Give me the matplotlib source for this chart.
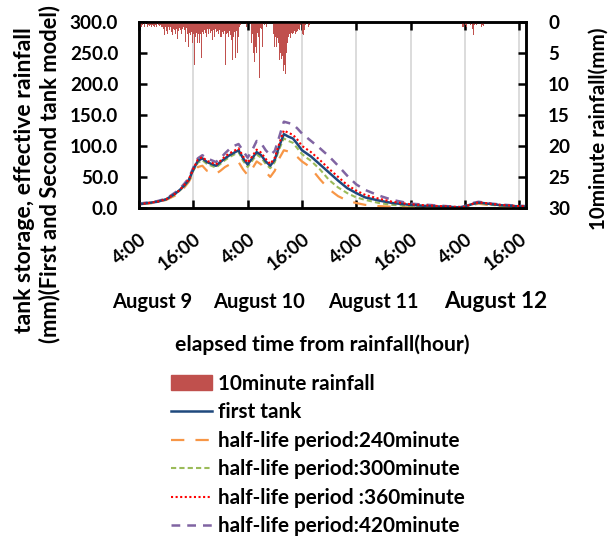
import matplotlib
matplotlib.use('Agg')
import matplotlib.pyplot as plt
from matplotlib.lines import Line2D
from matplotlib.patches import Patch
import numpy as np

plt.rcParams['font.family'] = ['Lato', 'DejaVu Sans']
plt.rcParams['font.weight'] = 'bold'

# ---------------- data ----------------
hours = [0, 2, 4, 6, 8, 9, 10, 11, 12, 13, 14, 15, 16, 17, 18, 19, 20, 21, 22, 23,
         24, 25, 26, 27, 28, 29, 30, 31, 32, 33, 34, 35, 36, 37, 38, 40, 42, 44, 46, 48,
         50, 53, 56, 60, 64, 68, 71, 72, 73, 74, 75, 76, 78, 80, 83, 85.7]

first_tank = [6, 8, 10, 14, 23, 29, 36, 45, 62, 76, 80, 74, 71, 68, 74, 80, 85, 89, 93, 80,
              70, 80, 90, 85, 75, 68, 78, 100, 119, 115, 112, 103, 93, 88, 83, 70, 57, 44, 32, 24,
              17, 12, 8, 5, 3, 2, 1, 2, 5, 7, 8.5, 8, 6, 4.5, 3, 2]
hl240 = [6, 7, 9, 13, 20, 26, 33, 42, 56, 66, 68, 60, 58, 55, 60, 66, 70, 72, 74, 62,
         53, 63, 75, 70, 58, 50, 60, 80, 93, 91, 88, 82, 75, 70, 64, 46, 30, 19, 12, 8,
         5, 3, 2, 1, 1, 0.5, 0.5, 1, 3.5, 5.5, 7, 6, 4, 2.5, 1.5, 1]
hl300 = [6, 8, 10, 14, 22, 28, 35, 44, 60, 73, 77, 71, 68, 65, 71, 77, 82, 86, 90, 76,
         66, 76, 86, 81, 71, 64, 74, 95, 112, 108, 105, 96, 87, 81, 76, 62, 45, 33, 24, 17,
         13, 8, 5, 3, 2, 1, 0.5, 1.5, 4.5, 6.5, 8, 7, 5, 3.5, 2.5, 1.5]
hl360 = [6, 8, 10, 14, 23, 29, 37, 46, 63, 78, 82, 76, 73, 70, 76, 83, 88, 92, 96, 83,
         73, 83, 94, 89, 79, 71, 81, 104, 125, 121, 118, 110, 100, 95, 90, 77, 63, 50, 37, 28,
         21, 15, 10, 6, 4, 2.5, 1.5, 2, 5, 7.5, 9, 8.5, 6.5, 5, 3.5, 2.5]
hl420 = [7, 9, 11, 15, 25, 31, 39, 48, 65, 80, 85, 80, 77, 74, 80, 88, 95, 100, 103, 92,
         81, 93, 108, 104, 93, 85, 92, 115, 139, 137, 135, 128, 120, 114, 108, 96, 83, 68, 52, 38,
         29, 20, 13, 7, 5, 3, 1.5, 3, 6, 8.5, 10, 9, 7, 5.5, 4, 3]

# 10-minute rainfall (mm), given as (start step, values) with 10-minute steps from 4:00 Aug 9
rain_seg1_start = 1
rain_seg1 = [0.8, 0.5, 0.9, 0.6, 0, 0.7, 0.8, 0.4, 0, 0.6, 0.9, 0.5, 0.7, 0, 0.6, 0.8, 0.5, 0,
             0.7, 0.9, 0.6, 0.5, 0.8, 0, 0.6, 0.9, 0.7, 0.5, 0.8, 0.6,
             0.9, 1.2, 2.2, 1.0, 0.8, 1.5, 2.0, 1.1, 0.9, 1.3, 0.8, 1.0, 1.6, 2.2, 1.2, 0.9, 1.4,
             2.0, 1.1, 0.8, 2.8, 1.5, 1.0, 3.0, 1.3, 2.0, 1.2, 0.9, 2.5, 1.4, 3.2, 1.0, 1.5, 2.0,
             4.0, 1.8, 1.2, 2.2, 1.6, 3.5, 1.3, 2.0]
rain_seg2_start = 73
rain_seg2 = [7.0, 2.5, 5.5, 1.8, 3.5, 2.0,
             1.5, 3.5, 2.0, 5.8, 2.2, 1.6,
             2.0, 1.4, 2.4, 1.8, 2.4, 1.2,
             1.6, 2.0, 1.2, 1.8, 1.0, 1.5,
             2.9, 1.4, 1.8, 2.5, 1.2, 1.6,
             4.0, 1.5, 2.0, 1.3, 1.8, 2.4,
             2.4, 1.6, 1.2, 2.0, 1.5, 7.0,
             2.0, 6.2, 1.8, 2.5, 1.5, 7.0,
             2.2, 3.0, 6.2, 1.8, 2.5, 1.6,
             5.9, 2.0, 1.5, 5.1, 2.4, 1.2,
             0.8, 0.5]
rain_seg3_start = 142
rain_seg3 = [0.9, 0, 0.5, 0, 0, 0.4, 0, 3.5, 2.0, 5.1, 3.5, 6.5, 4.0, 5.0, 3.0, 1.8, 2.5,
             9.0, 1.5, 1.0, 1.2, 4.0, 1.0, 0, 0.5, 0, 0, 0.8]
rain_seg4_start = 178
rain_seg4 = [2.0, 4.0, 2.5, 3.8, 4.0, 2.6, 3.5, 4.2,
             6.2, 5.0, 6.0, 4.8, 5.5, 8.0,
             7.0, 10.0, 8.5, 5.0, 3.5, 2.5,
             2.4, 2.0, 2.6, 2.2, 1.8, 2.0,
             1.8, 2.1, 1.5, 2.0, 1.6, 2.0,
             1.5, 1.2, 1.3, 0.8, 0.5, 0.3,
             2.0, 1.5, 2.1, 1.3, 0.6, 0.0,
             0.0, 0.0, 0.8, 0.0, 0.5]
rain_seg5_start = 428
rain_seg5 = [0.8, 0.6, 0.8, 0, 0.5, 0, 0.8, 0, 0, 0, 0, 0.6, 0, 0, 1.2, 2.2, 0.6, 0.8, 0, 0.6,
             0, 0, 0, 0, 0, 0, 0.8, 0.6, 0.7]

xtick_hours = [0, 12, 24, 36, 48, 60, 72, 84]
xtick_labels = ['4:00', '16:00', '4:00', '16:00', '4:00', '16:00', '4:00', '16:00']
left_ticks = [0, 50, 100, 150, 200, 250, 300]
right_ticks = [0, 5, 10, 15, 20, 25, 30]
date_labels = ['August 9', 'August 10', 'August 11', 'August 12']

# ---------------- build rainfall array ----------------
n_steps = 515
rain = np.zeros(n_steps)
for st, vals in [(rain_seg1_start, rain_seg1), (rain_seg2_start, rain_seg2),
                 (rain_seg3_start, rain_seg3), (rain_seg4_start, rain_seg4),
                 (rain_seg5_start, rain_seg5)]:
    rain[st:st + len(vals)] = vals
rain_t = np.arange(n_steps) / 6.0

# ---------------- figure ----------------
W, H = 614, 537
fig = plt.figure(figsize=(W / 100, H / 100), dpi=100)
renderer = fig.canvas.get_renderer()


def fit(t, target, along='w'):
    for _ in range(3):
        bb = t.get_window_extent(renderer)
        cur = bb.width if along == 'w' else bb.height
        t.set_fontsize(t.get_fontsize() * target / cur)
    return t.get_fontsize()


def size_for(s, target):
    t = fig.text(0, 0, s, fontsize=14, fontweight='bold')
    fs = fit(t, target)
    t.remove()
    return fs


FS_TICK = size_for('300.0', 48)
FS_LEG = size_for('half-life period:240minute', 242)

ax = fig.add_axes([139 / W, 1 - 208 / H, 387 / W, 186.3 / H])

c_navy = '#1F497D'
c_or = '#F79646'
c_gr = '#9BBB59'
c_red = '#FF0000'
c_pu = '#8064A2'
c_rain = '#C0504D'

ax.grid(axis='x', color='#D9D9D9', lw=1.3)
ax.set_axisbelow(True)
l1, = ax.plot(hours, first_tank, color=c_navy, lw=1.8, zorder=5)
l2, = ax.plot(hours, hl240, color=c_or, lw=1.6, ls=(0, (6, 5)), zorder=4)
l3, = ax.plot(hours, hl300, color=c_gr, lw=1.5, ls=(0, (2.5, 1.5)), zorder=4)
l4, = ax.plot(hours, hl360, color=c_red, lw=1.5, ls=(0, (1, 1.2)), zorder=6)
l5, = ax.plot(hours, hl420, color=c_pu, lw=1.8, ls=(0, (3.5, 2.8)), zorder=3)

ax.set_xlim(0, 85.5)
ax.set_ylim(0, 300)
ax.set_xticks(xtick_hours)
ax.set_xticklabels(xtick_labels, rotation=38, ha='right', rotation_mode='anchor')
ax.set_yticks(left_ticks)
ax.set_yticklabels([f'{v:.1f}' for v in left_ticks])
ax.tick_params(axis='both', direction='in', length=6, width=1.8, labelsize=FS_TICK, top=True)
ax.tick_params(axis='y', pad=15)
ax.tick_params(axis='x', pad=16)
for s in ax.spines.values():
    s.set_linewidth(1.8)

ax2 = ax.twinx()
ax2.bar(rain_t, rain, width=1 / 6, align='edge', color=c_rain, lw=0)
ax2.set_ylim(30, 0)
ax2.set_yticks(right_ticks)
ax2.tick_params(axis='y', direction='in', length=6, width=1.8, labelsize=FS_TICK, pad=16)
for s in ax2.spines.values():
    s.set_linewidth(1.8)

# axis titles
t1 = fig.text(25 / W, 1 - 180 / H, 'tank storage, effective rainfall', rotation=90,
              ha='center', va='center', fontsize=14, fontweight='bold')
fit(t1, 305, 'h')
t2 = fig.text(50 / W, 1 - 174 / H, '(mm)(First and Second tank model)', rotation=90,
              ha='center', va='center', fontsize=14, fontweight='bold')
fit(t2, 338, 'h')
t3 = fig.text(599 / W, 1 - 129 / H, '10minute rainfall(mm)', rotation=90,
              ha='center', va='center', fontsize=14, fontweight='bold')
fit(t3, 203, 'h')

date_x = [152, 259, 373, 496]
date_w = [None, 92, 90, 103]
fs_date = None
for lab, x, w in zip(date_labels, date_x, date_w):
    t = fig.text(x / W, 1 - 302 / H, lab, ha='center', va='center', fontsize=14,
                 fontweight='bold')
    if w is not None:
        f = fit(t, w)
        if fs_date is None:
            fs_date = f
    dt = t
# August 9 uses the same size as August 10
fig.texts[-4].set_fontsize(fs_date)

tx = fig.text(322 / W, 1 - 345 / H, 'elapsed time from rainfall(hour)', ha='center',
              va='center', fontsize=14, fontweight='bold')
fit(tx, 295)

handles = [Patch(color=c_rain), l1, l2, l3, l4, l5]
labels = ['10minute rainfall', 'first tank', 'half-life period:240minute',
          'half-life period:300minute', 'half-life period :360minute',
          'half-life period:420minute']
fig.legend(handles, labels, loc='upper left', bbox_to_anchor=(171 / W, 1 - 374 / H),
           frameon=False, fontsize=FS_LEG, handlelength=41 / (FS_LEG * 100 / 72),
           handletextpad=0.3, labelspacing=0.41, borderpad=0, borderaxespad=0)

fig.savefig('out.png', dpi=100)
